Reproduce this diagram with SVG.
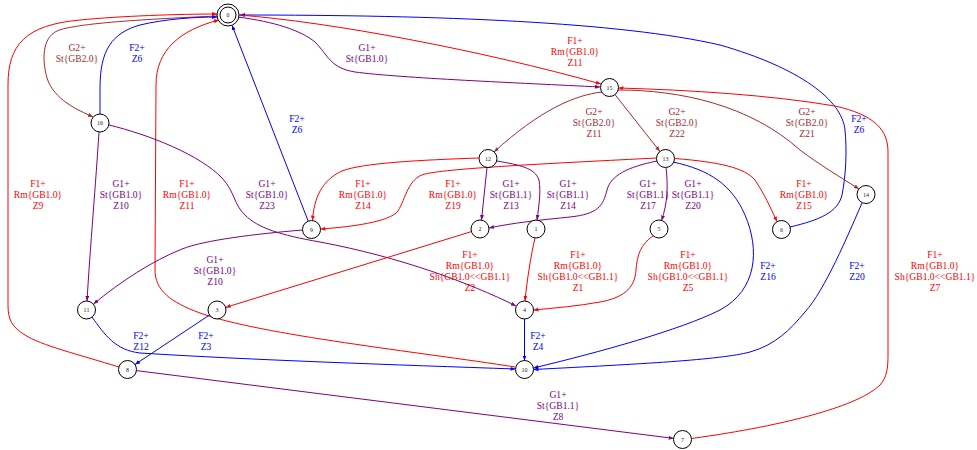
<svg xmlns="http://www.w3.org/2000/svg" width="977" height="450" viewBox="0 0 977 450">
<style>
.e{fill:none;stroke-width:1}
.r{stroke:#ff0000}.b{stroke:#0000ff}.p{stroke:#800080}.w{stroke:#a52a2a}
.rm{marker-end:url(#ar)}.bm{marker-end:url(#ab)}.pm{marker-end:url(#ap)}.wm{marker-end:url(#aw)}
text{font-family:"Liberation Serif",Times,serif;text-anchor:middle}
.l{font-size:9.6px}
.tr{fill:#ff0000}.tb{fill:#0000ff}.tp{fill:#800080}.tw{fill:#a52a2a}
.n circle{fill:#ffffff;stroke:#000000;stroke-width:1}
.n text{font-size:6px;fill:#222222}
</style>
<defs>
<marker id="ar" markerUnits="userSpaceOnUse" markerWidth="6" markerHeight="5" refX="5" refY="2" orient="auto"><path d="M0,0 L5,2 L0,4 z" fill="#ff0000"/></marker>
<marker id="ab" markerUnits="userSpaceOnUse" markerWidth="6" markerHeight="5" refX="5" refY="2" orient="auto"><path d="M0,0 L5,2 L0,4 z" fill="#0000ff"/></marker>
<marker id="ap" markerUnits="userSpaceOnUse" markerWidth="6" markerHeight="5" refX="5" refY="2" orient="auto"><path d="M0,0 L5,2 L0,4 z" fill="#800080"/></marker>
<marker id="aw" markerUnits="userSpaceOnUse" markerWidth="6" markerHeight="5" refX="5" refY="2" orient="auto"><path d="M0,0 L5,2 L0,4 z" fill="#a52a2a"/></marker>
</defs>
<g id="connectors">
<g id="e0_16"><path class="e w wm" d="M217,16 C150,19 75,23 57,31 C42,38 42,60 47,78 C54,100 78,110 93,117"/><text class="l tw" x="77" y="50.5">G2+</text><text class="l tw" x="77" y="61.5">St{GB2.0}</text></g>
<g id="e16_0"><path class="e b bm" d="M100,114 L100,88 C100,50 112,33 140,25 C165,19 195,17 217,17"/><text class="l tb" x="137" y="50.5">F2+</text><text class="l tb" x="137" y="61.5">Z6</text></g>
<g id="e8_0"><path class="e r rm" d="M119,367 C80,355 40,345 25,335 C12,327 8,320 8,305 L8,85 C8,45 25,25 80,20 C120,16 180,14 217,14"/><text class="l tr" x="38" y="187">F1+</text><text class="l tr" x="38" y="198">Rm{GB1.0}</text><text class="l tr" x="38" y="209">Z9</text></g>
<g id="e10_0"><path class="e r rm" d="M515,367 C420,352 260,335 200,313 C170,302 155,290 155,270 L156,85 C156,50 180,30 219,20"/><text class="l tr" x="187" y="187">F1+</text><text class="l tr" x="187" y="198">Rm{GB1.0}</text><text class="l tr" x="187" y="209">Z11</text></g>
<g id="e9_0"><path class="e b bm" d="M308.2,221.1 L232,25.3"/><text class="l tb" x="297" y="122">F2+</text><text class="l tb" x="297" y="132.5">Z6</text></g>
<g id="e6_0"><path class="e b bm" d="M790,227 C820,220 838,212 842,195 C846,175 847,150 845,130 C842,100 800,68 720,45 C620,22 440,15 240,15"/><text class="l tb" x="859" y="122">F2+</text><text class="l tb" x="859" y="132.5">Z6</text></g>
<g id="e0_15p"><path class="e p pm" d="M238,17 C275,22 300,30 315,42 C328,55 330,68 355,72 C400,78 520,83 600,87"/><text class="l tp" x="367" y="50.5">G1+</text><text class="l tp" x="367" y="61.5">St{GB1.0}</text></g>
<g id="e0_15r"><path class="e r rm" d="M239,15 C330,22 480,50 601,84"/><text class="l tr" x="575" y="44">F1+</text><text class="l tr" x="575" y="55">Rm{GB1.0}</text><text class="l tr" x="575" y="66">Z11</text></g>
<g id="e7_15"><path class="e r rm" d="M691.5,438.5 C790,425 860,405 880,385 C887,377 888,368 888,355 L888,152 C888,130 875,115 835,106 C770,95 690,90 618.5,88"/><text class="l tr" x="935" y="258">F1+</text><text class="l tr" x="935" y="269">Rm{GB1.0}</text><text class="l tr" x="935" y="280">Sh{GB1.0&lt;&lt;GB1.1}</text><text class="l tr" x="935" y="291">Z7</text></g>
<g id="e15_12"><path class="e w wm" d="M602,92 C575,95 540,110 494,152"/><text class="l tw" x="594" y="115">G2+</text><text class="l tw" x="594" y="126">St{GB2.0}</text><text class="l tw" x="594" y="137">Z11</text></g>
<g id="e15_13"><path class="e w wm" d="M615,94.6 L659.9,151.4"/><text class="l tw" x="677" y="115">G2+</text><text class="l tw" x="677" y="126">St{GB2.0}</text><text class="l tw" x="677" y="137">Z22</text></g>
<g id="e15_14"><path class="e w wm" d="M618,90 C680,90 750,105 800,150 C820,165 840,177 859,189"/><text class="l tw" x="807" y="115">G2+</text><text class="l tw" x="807" y="126">St{GB2.0}</text><text class="l tw" x="807" y="137">Z21</text></g>
<g id="e16_11"><path class="e p pm" d="M99,132 C96,180 90,250 87,301"/><text class="l tp" x="121" y="187">G1+</text><text class="l tp" x="121" y="198">St{GB1.0}</text><text class="l tp" x="121" y="209">Z10</text></g>
<g id="e16_4"><path class="e p pm" d="M109,125 C150,135 200,155 222,178 C235,192 234,205 245,215 C258,228 280,235 320,242 C400,257 470,283 516,306"/><text class="l tp" x="267" y="187">G1+</text><text class="l tp" x="267" y="198">St{GB1.0}</text><text class="l tp" x="267" y="209">Z23</text></g>
<g id="e12_9"><path class="e r rm" d="M479,158 C420,160 362,163 342,171 C322,180 314,198 312.5,220.5"/><text class="l tr" x="363" y="187">F1+</text><text class="l tr" x="363" y="198">Rm{GB1.0}</text><text class="l tr" x="363" y="209">Z14</text></g>
<g id="e13_9"><path class="e r rm" d="M656,158 C560,163 450,168 425,174 C408,178 406,198 398,211 C390,222 350,227 320.5,229"/><text class="l tr" x="453" y="187">F1+</text><text class="l tr" x="453" y="198">Rm{GB1.0}</text><text class="l tr" x="453" y="209">Z19</text></g>
<g id="e12_2"><path class="e p pm" d="M487,167.5 L481.5,220"/><text class="l tp" x="511" y="187">G1+</text><text class="l tp" x="511" y="198">St{GB1.1}</text><text class="l tp" x="511" y="209">Z13</text></g>
<g id="e12_1"><path class="e p pm" d="M497,161 C520,165 535,168 539,180 C541,192 539,205 537,220"/><text class="l tp" x="568" y="187">G1+</text><text class="l tp" x="568" y="198">St{GB1.1}</text><text class="l tp" x="568" y="209">Z14</text></g>
<g id="e13_2"><path class="e p pm" d="M657,161 C628,167 611,175 607,190 C603,206 598,214 570,217 C540,220 512,223 489,228"/><text class="l tp" x="648" y="187">G1+</text><text class="l tp" x="648" y="198">St{GB1.1}</text><text class="l tp" x="648" y="209">Z17</text></g>
<g id="e13_5"><path class="e p pm" d="M666,167.5 C668,185 668,202 661.5,220.5"/><text class="l tp" x="693" y="187">G1+</text><text class="l tp" x="693" y="198">St{GB1.1}</text><text class="l tp" x="693" y="209">Z20</text></g>
<g id="e13_6"><path class="e r rm" d="M674.5,158.5 C720,162 745,168 755,180 C764,193 770,207 777,221.5"/><text class="l tr" x="804" y="187">F1+</text><text class="l tr" x="804" y="198">Rm{GB1.0}</text><text class="l tr" x="804" y="209">Z15</text></g>
<g id="e13_10"><path class="e b bm" d="M673,162 C710,170 732,185 745,215 C760,250 757,290 720,310 C680,330 600,352 533.5,368"/><text class="l tb" x="768" y="269">F2+</text><text class="l tb" x="768" y="280">Z16</text></g>
<g id="e14_10"><path class="e b bm" d="M862,203 C848,235 825,290 805,312 C790,330 775,345 750,352 C720,360 640,364 533.5,369.5"/><text class="l tb" x="857" y="269">F2+</text><text class="l tb" x="857" y="280">Z20</text></g>
<g id="e9_11"><path class="e p pm" d="M302.5,230 C255,234 205,240 182,249 C152,261 120,282 93.5,304"/><text class="l tp" x="215" y="263">G1+</text><text class="l tp" x="215" y="274">St{GB1.0}</text><text class="l tp" x="215" y="285">Z10</text></g>
<g id="e2_3"><path class="e r rm" d="M471.4,231.6 L225.6,307.4"/><text class="l tr" x="470" y="258">F1+</text><text class="l tr" x="470" y="269">Rm{GB1.0}</text><text class="l tr" x="470" y="280">Sh{GB1.0&lt;&lt;GB1.1}</text><text class="l tr" x="470" y="291">Z2</text></g>
<g id="e1_4"><path class="e r rm" d="M535,238 C531,255 527,280 525,301"/><text class="l tr" x="578" y="258">F1+</text><text class="l tr" x="578" y="269">Rm{GB1.0}</text><text class="l tr" x="578" y="280">Sh{GB1.0&lt;&lt;GB1.1}</text><text class="l tr" x="578" y="291">Z1</text></g>
<g id="e5_4"><path class="e r rm" d="M653,236 C641,244 637,255 636,270 C635,289 622,298 600,302 C578,306 555,308 533.5,310"/><text class="l tr" x="688" y="258">F1+</text><text class="l tr" x="688" y="269">Rm{GB1.0}</text><text class="l tr" x="688" y="280">Sh{GB1.0&lt;&lt;GB1.1}</text><text class="l tr" x="688" y="291">Z5</text></g>
<g id="e11_10"><path class="e b bm" d="M92,317 C105,335 115,350 140,353 C250,360 400,365 515.5,369"/><text class="l tb" x="141" y="339">F2+</text><text class="l tb" x="141" y="349.5">Z12</text></g>
<g id="e3_8"><path class="e b bm" d="M209.5,315 L135,364.5"/><text class="l tb" x="206" y="339">F2+</text><text class="l tb" x="206" y="349.5">Z3</text></g>
<g id="e4_10"><path class="e b bm" d="M524.5,319 L524.5,360.5"/><text class="l tb" x="538" y="339">F2+</text><text class="l tb" x="538" y="349.5">Z4</text></g>
<g id="e8_7"><path class="e p pm" d="M136.4,370.6 L673.6,438.4"/><text class="l tp" x="558" y="398">G1+</text><text class="l tp" x="558" y="409">St{GB1.1}</text><text class="l tp" x="558" y="420">Z8</text></g>
</g>
<g id="n0" class="n"><circle cx="228" cy="15" r="11"/><circle cx="228" cy="15" r="8"/><text x="228" y="17">0</text></g>
<g id="n15" class="n"><circle cx="609.5" cy="87.5" r="9"/><text x="609.5" y="89.5">15</text></g>
<g id="n16" class="n"><circle cx="100" cy="123" r="9"/><text x="100" y="125">16</text></g>
<g id="n12" class="n"><circle cx="488" cy="158.5" r="9"/><text x="488" y="160.5">12</text></g>
<g id="n13" class="n"><circle cx="665.5" cy="158.5" r="9"/><text x="665.5" y="160.5">13</text></g>
<g id="n14" class="n"><circle cx="866" cy="194.5" r="9"/><text x="866" y="196.5">14</text></g>
<g id="n9" class="n"><circle cx="311.5" cy="229.5" r="9"/><text x="311.5" y="231.5">9</text></g>
<g id="n2" class="n"><circle cx="480" cy="229" r="9"/><text x="480" y="231">2</text></g>
<g id="n1" class="n"><circle cx="536" cy="229" r="9"/><text x="536" y="231">1</text></g>
<g id="n5" class="n"><circle cx="659" cy="229" r="9"/><text x="659" y="231">5</text></g>
<g id="n6" class="n"><circle cx="781.5" cy="229.5" r="9"/><text x="781.5" y="231.5">6</text></g>
<g id="n11" class="n"><circle cx="86.5" cy="310" r="9"/><text x="86.5" y="312">11</text></g>
<g id="n3" class="n"><circle cx="217" cy="310" r="9"/><text x="217" y="312">3</text></g>
<g id="n4" class="n"><circle cx="524.5" cy="310" r="9"/><text x="524.5" y="312">4</text></g>
<g id="n8" class="n"><circle cx="127.5" cy="369.5" r="9"/><text x="127.5" y="371.5">8</text></g>
<g id="n10" class="n"><circle cx="524.5" cy="369.5" r="9"/><text x="524.5" y="371.5">10</text></g>
<g id="n7" class="n"><circle cx="682.5" cy="439.5" r="9"/><text x="682.5" y="441.5">7</text></g>
</svg>
